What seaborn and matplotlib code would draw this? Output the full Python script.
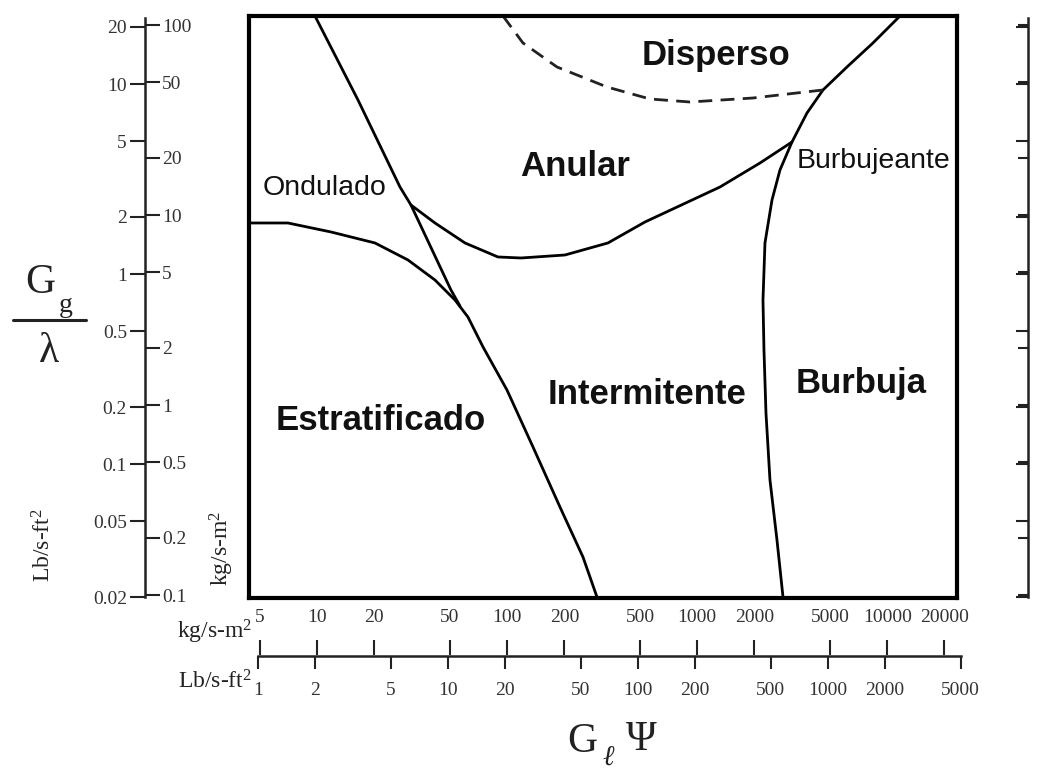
import matplotlib
matplotlib.use("Agg")
import matplotlib.pyplot as plt
from matplotlib.ticker import FixedLocator, FixedFormatter, NullLocator
from matplotlib.lines import Line2D
import seaborn as sns

# ---------------- data (x: G_l*psi, y: G_g/lambda, both in lb/s-ft2) ----------------
strat_x = [0.897, 1.438, 2.423, 4.128, 6.158, 8.542, 10.89, 12.74, 15.29, 20.44, 28.02, 38.86, 51.34, 60.84]
strat_y = [1.86, 1.86, 1.668, 1.460, 1.188, 0.932, 0.731, 0.595, 0.414, 0.2458, 0.1232, 0.0595, 0.03248, 0.02]
wavy_x = [1.995, 3.36, 5.59, 6.386, 10.37, 11.57]
wavy_y = [22.85, 8.26, 2.877, 2.313, 0.8257, 0.680]
annular_x = [6.386, 8.542, 12.29, 18.33, 24.23, 41.28, 69.5, 108.9, 270.2, 438.7, 646.5]
annular_y = [2.313, 1.86, 1.460, 1.232, 1.217, 1.262, 1.460, 1.883, 2.877, 3.848, 4.963]
bubble_x = [2393, 1725, 1259, 941.2, 775.3, 646.5, 558.9, 507.4, 466.0, 454.9, 460.4, 471.7, 495.1, 539.0, 579.8]
bubble_y = [22.85, 16.48, 12.32, 9.322, 7.053, 4.963, 3.535, 2.458, 1.460, 0.731, 0.399, 0.186, 0.0826, 0.0399, 0.02]
disp_x = [19.48, 24.81, 37.47, 68.7, 115.7, 187.8, 402.9, 941.2]
disp_y = [22.85, 16.48, 12.32, 9.666, 8.358, 8.059, 8.459, 9.322]

lb_y_ticks = [20, 10, 5, 2, 1, 0.5, 0.2, 0.1, 0.05, 0.02]
kg_y_ticks = [100, 50, 20, 10, 5, 2, 1, 0.5, 0.2, 0.1]
kg_x_ticks = [5, 10, 20, 50, 100, 200, 500, 1000, 2000, 5000, 10000, 20000]
lb_x_ticks = [1, 2, 5, 10, 20, 50, 100, 200, 500, 1000, 2000, 5000]
KG_PER_LB = 4.882

bold_labels = ["Disperso", "Anular", "Estratificado", "Intermitente", "Burbuja"]
thin_labels = ["Ondulado", "Burbujeante"]

# ---------------- style ----------------
sns.set_style("white")
plt.rcParams["font.family"] = ["Liberation Serif", "DejaVu Serif"]
plt.rcParams["mathtext.fontset"] = "custom"
plt.rcParams["mathtext.rm"] = "Liberation Serif"
plt.rcParams["mathtext.it"] = "Liberation Serif:italic"

W, H = 1037, 778
fig = plt.figure(figsize=(W / 100, H / 100), dpi=100)
fig.patch.set_facecolor("white")


def fx(px):
    return px / W


def fy(py):
    return 1 - py / H


def rect(x0, y0, x1, y1):
    return [fx(x0), fy(y1), fx(x1) - fx(x0), fy(y0) - fy(y1)]


XLIM = (0.897, 4776)
YLIM = (0.01976, 22.85)

# ---------------- main panel ----------------
ax = fig.add_axes(rect(249, 16, 957, 598))
ax.set_xscale("log")
ax.set_yscale("log")
ax.set_xlim(*XLIM)
ax.set_ylim(*YLIM)
for s in ax.spines.values():
    s.set_linewidth(3.0)
    s.set_color("black")

solid = [(strat_x, strat_y), (wavy_x, wavy_y), (annular_x, annular_y), (bubble_x, bubble_y)]
for xs, ys in solid:
    sns.lineplot(x=xs, y=ys, sort=False, estimator=None, color="black", linewidth=2.0, ax=ax)
sns.lineplot(x=disp_x, y=disp_y, sort=False, estimator=None, color="#222222",
             linewidth=2.0, ax=ax, linestyle=(0, (5, 3)))
ax.set_xlim(*XLIM)
ax.set_ylim(*YLIM)
for a in (ax.xaxis, ax.yaxis):
    a.set_major_locator(NullLocator())
    a.set_minor_locator(NullLocator())
ax.set_xlabel("")
ax.set_ylabel("")

# region labels
bold_pos = [(716, 55), (575, 166), (381, 420), (647, 395), (861, 383)]
for lab, (px, py) in zip(bold_labels, bold_pos):
    fig.text(fx(px), fy(py), lab, ha="center", va="center", fontsize=25,
             fontweight="bold", family=["Liberation Sans", "DejaVu Sans"], color="#111111")
fig.text(fx(325), fy(188), thin_labels[0], ha="center", va="center", fontsize=20.5,
         family=["Liberation Sans", "DejaVu Sans"], color="#111111")
fig.text(fx(797), fy(161), thin_labels[1], ha="left", va="center", fontsize=20.5,
         family=["Liberation Sans", "DejaVu Sans"], color="#111111")

# ---------------- left scale ----------------
tick_kw = dict(direction="out", width=1.5, colors="#222222", labelsize=14, pad=2,
               labelcolor="#333333")


def strip(a, keep):
    for name, s in a.spines.items():
        s.set_visible(name == keep)
        s.set_linewidth(1.8)
        s.set_color("#222222")
    a.set_facecolor("none")


axl = fig.add_axes(rect(145, 16, 145.5, 598))
axl.set_yscale("log")
axl.set_ylim(*YLIM)
axl.set_xticks([])
strip(axl, "left")
axl.spines["left"].set_bounds(0.02, 22.3)
axl.yaxis.set_major_locator(FixedLocator(lb_y_ticks))
axl.yaxis.set_major_formatter(FixedFormatter([f"{v:g}" for v in lb_y_ticks]))
axl.yaxis.set_minor_locator(NullLocator())
axl.tick_params(axis="y", length=11, **tick_kw)

axk = axl.twinx()
axk.set_yscale("log")
axk.set_ylim(YLIM[0] * KG_PER_LB, YLIM[1] * KG_PER_LB)
strip(axk, "right")
axk.spines["right"].set_visible(False)
axk.yaxis.set_major_locator(FixedLocator(kg_y_ticks))
axk.yaxis.set_major_formatter(FixedFormatter([f"{v:g}" for v in kg_y_ticks]))
axk.yaxis.set_minor_locator(NullLocator())
axk.tick_params(axis="y", length=10, **tick_kw)

# ---------------- right scale (unlabelled) ----------------
axr = fig.add_axes(rect(1028, 16, 1028.5, 598))
axr.set_yscale("log")
axr.set_ylim(*YLIM)
axr.set_xticks([])
strip(axr, "left")
axr.spines["left"].set_bounds(0.02, 22.3)
axr.yaxis.set_major_locator(FixedLocator(lb_y_ticks))
axr.yaxis.set_minor_locator(NullLocator())
axr.tick_params(axis="y", length=9, labelleft=False, direction="out", width=1.5, colors="#222222")
axr2 = axr.twinx()
axr2.set_yscale("log")
axr2.set_ylim(YLIM[0] * KG_PER_LB, YLIM[1] * KG_PER_LB)
strip(axr2, "right")
axr2.spines["right"].set_visible(False)
axr2.yaxis.set_ticks_position("left")
axr2.yaxis.set_major_locator(FixedLocator(kg_y_ticks))
axr2.yaxis.set_minor_locator(NullLocator())
axr2.tick_params(axis="y", length=7, labelleft=False, labelright=False,
                 direction="out", width=1.5, colors="#222222")

# ---------------- bottom scale ----------------
XB = (0.897, 5939)
axb = fig.add_axes(rect(249, 655, 975, 655.5))
axb.set_xscale("log")
axb.set_xlim(*XB)
axb.set_yticks([])
strip(axb, "bottom")
axb.spines["bottom"].set_bounds(1, 5000)
axb.xaxis.set_major_locator(FixedLocator(lb_x_ticks))
axb.xaxis.set_major_formatter(FixedFormatter([f"{v:g}" for v in lb_x_ticks]))
axb.xaxis.set_minor_locator(NullLocator())
axb.tick_params(axis="x", length=9, **tick_kw)
axb.tick_params(axis="x", pad=10)

axbk = axb.twiny()
axbk.set_xscale("log")
axbk.set_xlim(XB[0] * KG_PER_LB, XB[1] * KG_PER_LB)
strip(axbk, "top")
axbk.spines["top"].set_visible(False)
axbk.xaxis.set_major_locator(FixedLocator(kg_x_ticks))
axbk.xaxis.set_major_formatter(FixedFormatter([f"{v:g}" for v in kg_x_ticks]))
axbk.xaxis.set_minor_locator(NullLocator())
axbk.tick_params(axis="x", length=11, **tick_kw)
axbk.tick_params(axis="x", pad=10)

# ---------------- axis titles / units ----------------
fig.text(fx(252), fy(632), "kg/s-m$^2$", ha="right", va="center", fontsize=17, color="#222222")
fig.text(fx(252), fy(682), "Lb/s-ft$^2$", ha="right", va="center", fontsize=17, color="#222222")
fig.text(fx(44), fy(545), "Lb/s-ft$^2$", ha="center", va="center", rotation=90, fontsize=17, color="#222222")
fig.text(fx(222), fy(548), "kg/s-m$^2$", ha="center", va="center", rotation=90, fontsize=17, color="#222222")

# G_g / lambda
fig.text(fx(40), fy(283), "G", ha="center", va="center", fontsize=30, color="#222222")
fig.text(fx(66), fy(305), "g", ha="center", va="center", fontsize=20, color="#222222")
fig.add_artist(Line2D([fx(13), fx(86)], [fy(320), fy(320)], color="#222222", linewidth=2.2))
fig.text(fx(49), fy(352), "λ", ha="center", va="center", fontsize=30, color="#222222")

# G_l Psi
fig.text(fx(582), fy(742), "G", ha="center", va="center", fontsize=30, color="#222222")
fig.text(fx(608), fy(758), "ℓ", ha="center", va="center", fontsize=20, style="italic",
         color="#222222", family=["Liberation Serif", "DejaVu Serif"])
fig.text(fx(641), fy(740), "Ψ", ha="center", va="center", fontsize=30, color="#222222")

fig.savefig("out.png", dpi=100, facecolor="white")
